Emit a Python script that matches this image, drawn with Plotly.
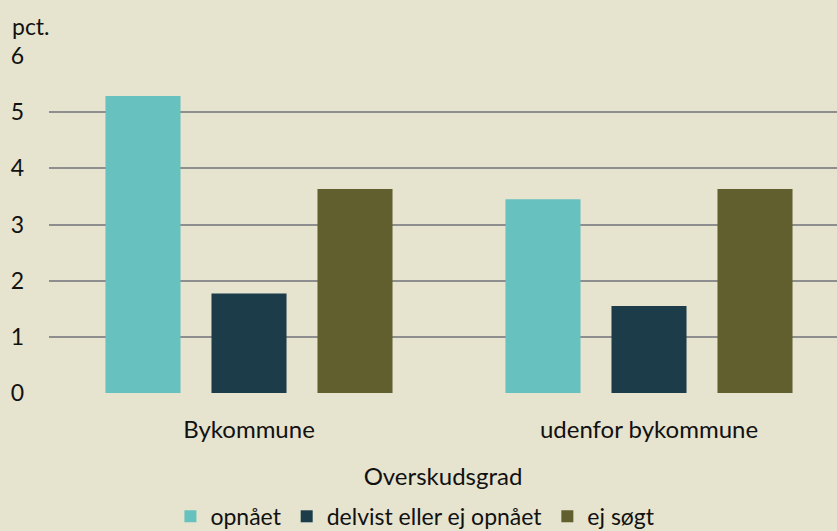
import plotly.graph_objects as go

categories = ["Bykommune", "udenfor bykommune"]
series_names = ["opnået", "delvist eller ej opnået", "ej søgt"]
opnaaet = [5.29, 3.45]
delvist = [1.77, 1.55]
ej_soegt = [3.63, 3.63]
y_ticks = [0, 1, 2, 3, 4, 5, 6]

colors = ["#67C2BF", "#1B3C48", "#625F2F"]
values = [opnaaet, delvist, ej_soegt]

font_family = "Lato, 'Open Sans', sans-serif"

fig = go.Figure()
for name, vals, col in zip(series_names, values, colors):
    fig.add_trace(go.Bar(
        x=categories, y=vals, name=name,
        marker=dict(color=col, line=dict(width=0)),
    ))

fig.update_layout(
    width=837, height=531,
    paper_bgcolor="#E6E3CE",
    plot_bgcolor="#E6E3CE",
    margin=dict(l=49, r=0, t=56, b=138, autoexpand=False),
    barmode="group",
    bargap=0.205,
    bargroupgap=0.292,
    font=dict(family=font_family, size=23, color="#111111"),
    showlegend=True,
    legend=dict(
        orientation="h", x=0.465, xanchor="center", y=-0.366, yanchor="middle",
        font=dict(size=23), itemsizing="constant", traceorder="normal",
        itemwidth=30, bgcolor="rgba(0,0,0,0)",
    ),
    xaxis=dict(
        range=[-0.5, -0.5 + 788 / 400],
        showgrid=False, zeroline=False, showline=False,
        ticks="", tickfont=dict(size=24), ticklabelstandoff=20,
        title=dict(text="Overskudsgrad", font=dict(size=24), standoff=26),
    ),
    yaxis=dict(
        range=[0, 6], tickvals=y_ticks,
        showgrid=True, gridcolor="#8E8E8E", gridwidth=2,
        zeroline=False, showline=False, ticks="",
        tickfont=dict(size=23), ticklabelstandoff=24,
    ),
    annotations=[dict(
        text="pct.", xref="paper", yref="paper", x=-49 / 788, y=1 + 30 / 337,
        xanchor="left", yanchor="middle", showarrow=False,
        font=dict(size=23, family=font_family), xshift=10,
    )],
)

fig.write_html(
    "out.html",
    config={"displayModeBar": False},
    post_script="document.body.style.margin='0';document.body.style.background='#E6E3CE';",
)
